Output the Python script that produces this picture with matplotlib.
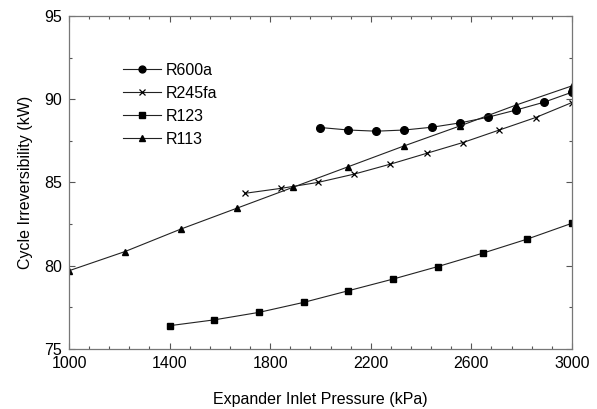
import numpy as np
import matplotlib
matplotlib.use('Agg')
import matplotlib.pyplot as plt

plt.rcParams['font.family'] = ['Liberation Sans', 'DejaVu Sans']

# R600a
p_r600a = np.linspace(2000, 3000, 10)
irr_r600a = [88.3, 88.15, 88.08, 88.15, 88.32, 88.58, 88.92, 89.35, 89.82, 90.42]
# R245fa
p_r245fa = np.linspace(1700, 3000, 10)
irr_r245fa = [84.35, 84.65, 85.0, 85.5, 86.1, 86.75, 87.4, 88.15, 88.9, 89.8]
# R123
p_r123 = np.linspace(1400, 3000, 10)
irr_r123 = [76.4, 76.75, 77.2, 77.8, 78.5, 79.2, 79.95, 80.75, 81.6, 82.55]
# R113
p_r113 = np.linspace(1000, 3000, 10)
irr_r113 = [79.7, 80.85, 82.2, 83.45, 84.7, 85.95, 87.2, 88.4, 89.65, 90.8]

fig = plt.figure(figsize=(5.97, 4.09), dpi=100)
ax = fig.add_axes([0.1156, 0.1467, 0.8424, 0.8143])

lc = '#222222'
ax.plot(p_r600a, irr_r600a, color=lc, lw=0.8, marker='o', ms=5.5, mfc='k', mec='k', label='R600a')
ax.plot(p_r245fa, irr_r245fa, color=lc, lw=0.8, marker='x', ms=5, mew=0.9, mec='k', label='R245fa')
ax.plot(p_r123, irr_r123, color=lc, lw=0.8, marker='s', ms=4.5, mfc='k', mec='k', label='R123')
ax.plot(p_r113, irr_r113, color=lc, lw=0.8, marker='^', ms=5, mfc='k', mec='k', label='R113')

ax.set_xlim(1000, 3000)
ax.set_ylim(75, 95)
ax.set_xticks(np.arange(1000, 3001, 400))
ax.set_xticks(np.arange(1000, 3001, 80), minor=True)
ax.set_yticks(np.arange(75, 95.1, 5))
ax.set_yticks(np.arange(75, 95.1, 2.5), minor=True)
ax.tick_params(which='both', direction='in', top=True, right=True, labelsize=11.5, colors='#555555', labelcolor='k')
ax.tick_params(which='major', length=4, width=0.8, pad=5)
ax.tick_params(which='minor', length=2.5, width=0.8)
for s in ax.spines.values():
    s.set_color('#777777')
    s.set_linewidth(0.9)

ax.set_xlabel('Expander Inlet Pressure (kPa)', fontsize=11.5, labelpad=15)
ax.set_ylabel('Cycle Irreversibility (kW)', fontsize=11.5, labelpad=8)

ax.legend(loc='upper left', bbox_to_anchor=(123/597, 1 - 63/409), bbox_transform=fig.transFigure,
          frameon=False, fontsize=11.5, handlelength=2.4, handletextpad=0.25, labelspacing=0.5,
          borderpad=0, borderaxespad=0, markerscale=0.9)

fig.savefig('out.png', dpi=100)
